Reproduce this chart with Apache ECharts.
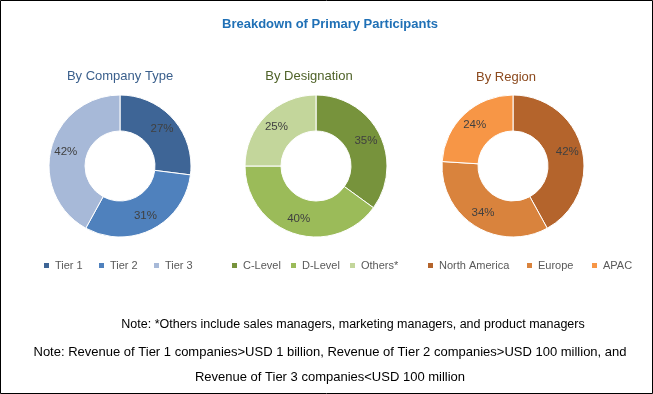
<!DOCTYPE html>
<html><head><meta charset="utf-8">
<script src="https://cdn.jsdelivr.net/npm/echarts@6/dist/echarts.min.js"></script>
<style>html,body{margin:0;padding:0;background:#fff}#c{width:653px;height:394px}</style>
</head><body><div id="c"></div>
<script>
var companyTypes = ['Tier 1', 'Tier 2', 'Tier 3'];
var companyValues = [27, 31, 42];
var designations = ['C-Level', 'D-Level', 'Others*'];
var designationValues = [35, 40, 25];
var regions = ['North America', 'Europe', 'APAC'];
var regionValues = [42, 34, 24];
var notes = [
  'Note: *Others include sales managers, marketing managers, and product managers',
  'Note: Revenue of Tier 1 companies>USD 1 billion, Revenue of Tier 2 companies>USD 100 million, and',
  'Revenue of Tier 3 companies<USD 100 million'
];

var FONT = 'Liberation Sans, sans-serif';
var colCompany = ['#3e6596', '#4f81bd', '#a7b9d8'];
var colDesig = ['#77933c', '#9bbb59', '#c3d69b'];
var colRegion = ['#b4642c', '#d9833d', '#f79646'];
var legendLefts = [[42, 97, 152], [230, 289, 348], [426, 525, 590]];

function mk(names, vals, cols) {
  return names.map(function (n, i) { return { name: n, value: vals[i], itemStyle: { color: cols[i] } }; });
}
function pie(names, vals, cols, cx) {
  return {
    type: 'pie', radius: [35, 71], center: [cx, 166], startAngle: 90, clockwise: true,
    avoidLabelOverlap: false, animation: false,
    itemStyle: { borderColor: '#fff', borderWidth: 1 },
    label: { show: true, position: 'inside', formatter: '{c}%', color: '#404040', fontSize: 11.5, fontFamily: FONT },
    labelLine: { show: false },
    emphasis: { disabled: true },
    data: mk(names, vals, cols)
  };
}
var legends = [];
[companyTypes, designations, regions].forEach(function (names, g) {
  names.forEach(function (n, i) {
    legends.push({
      data: [n], left: legendLefts[g][i], top: 260, padding: 0, icon: 'rect', itemWidth: 7, itemHeight: 7,
      textStyle: { color: '#595959', fontSize: 11, fontFamily: FONT },
      selectedMode: false
    });
  });
});
var chart = echarts.init(document.getElementById('c'));
chart.setOption({
  backgroundColor: '#fff',
  title: [
    { text: 'Breakdown of Primary Participants', left: 330, top: 18, padding: 0, textAlign: 'center',
      textStyle: { color: '#1f70b6', fontSize: 13, fontWeight: 'bold', fontFamily: FONT } },
    { text: 'By Company Type', left: 120, top: 70, padding: 0, textAlign: 'center',
      textStyle: { color: '#3a5f8c', fontSize: 13, fontWeight: 'normal', fontFamily: FONT } },
    { text: 'By Designation', left: 309, top: 70, padding: 0, textAlign: 'center',
      textStyle: { color: '#4f6228', fontSize: 13, fontWeight: 'normal', fontFamily: FONT } },
    { text: 'By Region', left: 506, top: 71, padding: 0, textAlign: 'center',
      textStyle: { color: '#8c4a1e', fontSize: 13, fontWeight: 'normal', fontFamily: FONT } }
  ],
  legend: legends,
  series: [
    pie(companyTypes, companyValues, colCompany, 120),
    pie(designations, designationValues, colDesig, 316),
    pie(regions, regionValues, colRegion, 513)
  ],
  graphic: [
    { type: 'rect', shape: { x: 0.5, y: 0.5, width: 652, height: 393 }, style: { fill: 'none', stroke: '#000', lineWidth: 1 }, silent: true },
    { type: 'text', x: 353, y: 325, style: { text: notes[0], fill: '#000', font: '12.5px ' + FONT, textAlign: 'center', textVerticalAlign: 'middle' } },
    { type: 'text', x: 330, y: 352, style: { text: notes[1], fill: '#000', font: '13px ' + FONT, textAlign: 'center', textVerticalAlign: 'middle' } },
    { type: 'text', x: 330, y: 377, style: { text: notes[2], fill: '#000', font: '13px ' + FONT, textAlign: 'center', textVerticalAlign: 'middle' } }
  ]
});
</script></body></html>
